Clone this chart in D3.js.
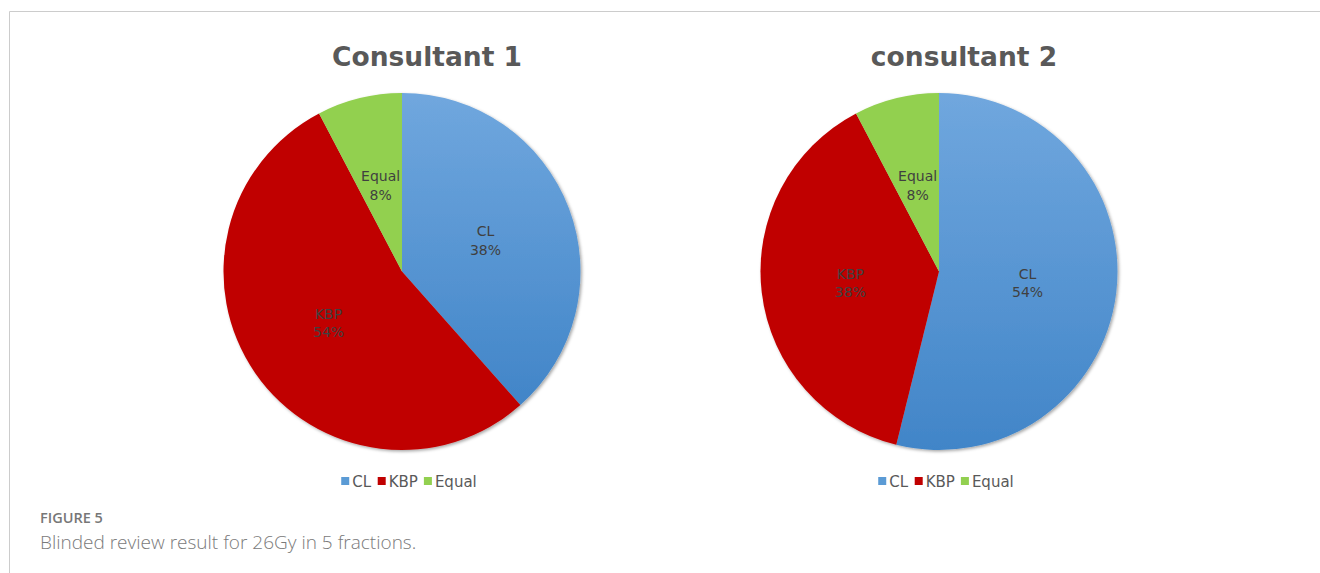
<!DOCTYPE html>
<html>
<head>
<meta charset="utf-8">
<script src="https://cdn.jsdelivr.net/npm/d3@7"></script>
<style>
  html, body { margin: 0; padding: 0; background: #fff; }
  svg { display: block; }
</style>
</head>
<body>
<svg id="chart" width="1320" height="573"></svg>
<script>
// Review outcome categories and case counts per consultant (13 plans each)
const categories = ["CL", "KBP", "Equal"];
const consultant1 = [5, 7, 1];
const consultant2 = [7, 5, 1];
const chartTitles = ["Consultant 1", "consultant 2"];
const sliceColors = ["#5b9bd5", "#c00000", "#92d050"];

const figureLabel = "FIGURE 5";
const figureCaption = "Blinded review result for 26Gy in 5 fractions.";

const svg = d3.select("#chart");
const defs = svg.append("defs");

// Vertical gradient for the CL slice
const grad = defs.append("linearGradient")
  .attr("id", "blueGrad").attr("x1", 0).attr("y1", 0).attr("x2", 0).attr("y2", 1)
  .attr("gradientUnits", "objectBoundingBox");
grad.append("stop").attr("offset", "0%").attr("stop-color", "#70a7de");
grad.append("stop").attr("offset", "100%").attr("stop-color", "#4185c8");

// Soft shadow under each pie
const shadow = defs.append("filter").attr("id", "pieShadow")
  .attr("x", "-10%").attr("y", "-10%").attr("width", "120%").attr("height", "120%");
shadow.append("feDropShadow")
  .attr("dx", 1.5).attr("dy", 1.5).attr("stdDeviation", 1.5)
  .attr("flood-color", "#000").attr("flood-opacity", 0.35);

// Figure frame (top and left rules)
svg.append("line").attr("x1", 9.5).attr("x2", 1320).attr("y1", 11.5).attr("y2", 11.5)
  .attr("stroke", "#cccccc").attr("stroke-width", 1);
svg.append("line").attr("x1", 9.5).attr("x2", 9.5).attr("y1", 11.5).attr("y2", 573)
  .attr("stroke", "#cccccc").attr("stroke-width", 1);

const color = d3.scaleOrdinal().domain(categories).range(sliceColors);
const fillFor = c => c === "CL" ? "url(#blueGrad)" : color(c);

const pie = d3.pie().sort(null).value(d => d.value);
const R = 178.5;
const arc = d3.arc().innerRadius(0).outerRadius(R);
const labelArc = d3.arc().innerRadius(R * 0.5).outerRadius(R * 0.5);

const panels = [
  { title: chartTitles[0], values: consultant1, cx: 402, titleX: 427, legendX: 409 },
  { title: chartTitles[1], values: consultant2, cx: 939, titleX: 964, legendX: 946 }
];
const cy = 271.5;

panels.forEach(p => {
  const data = categories.map((c, i) => ({ cat: c, value: p.values[i] }));
  const total = d3.sum(p.values);
  const arcs = pie(data);

  // Title
  svg.append("text")
    .attr("x", p.titleX).attr("y", 66)
    .attr("text-anchor", "middle")
    .attr("font-family", "DejaVu Sans")
    .attr("font-weight", "bold")
    .attr("font-size", 26.5)
    .attr("fill", "#595959")
    .text(p.title);

  const g = svg.append("g").attr("transform", `translate(${p.cx},${cy})`);

  g.append("g").attr("filter", "url(#pieShadow)")
    .selectAll("path").data(arcs).join("path")
    .attr("d", arc)
    .attr("fill", d => fillFor(d.data.cat));

  // Data labels: category and rounded percentage
  const lbl = g.selectAll("text.lbl").data(arcs).join("text")
    .attr("class", "lbl")
    .attr("transform", d => `translate(${labelArc.centroid(d)})`)
    .attr("text-anchor", "middle")
    .attr("font-family", "DejaVu Sans")
    .attr("font-size", 14)
    .attr("fill", "#404040");
  lbl.append("tspan").attr("x", 0).attr("dy", "-0.25em").text(d => d.data.cat);
  lbl.append("tspan").attr("x", 0).attr("dy", "1.3em")
    .text(d => Math.round(d.data.value / total * 100) + "%");

  // Legend
  const leg = svg.append("g").attr("transform", `translate(0,481)`);
  const items = leg.selectAll("g").data(categories).join("g");
  items.append("rect").attr("width", 8).attr("height", 8).attr("y", -4)
    .attr("fill", d => color(d));
  items.append("text").attr("x", 11).attr("y", 5.5)
    .attr("font-family", "DejaVu Sans").attr("font-size", 15)
    .attr("fill", "#595959").text(d => d);
  // lay out items horizontally, centered on legendX
  let x = 0;
  const widths = [];
  items.each(function () {
    const w = this.getBBox().width;
    widths.push(w);
  });
  const gap = 6;
  const totalW = d3.sum(widths) + gap * (widths.length - 1);
  x = p.legendX - totalW / 2;
  items.each(function (d, i) {
    d3.select(this).attr("transform", `translate(${x},0)`);
    x += widths[i] + gap;
  });
});

// Caption
svg.append("text")
  .attr("x", 40).attr("y", 523)
  .attr("font-family", "Open Sans").attr("font-weight", 600)
  .attr("font-size", 14.5).attr("fill", "#777777")
  .text(figureLabel);
svg.append("text")
  .attr("x", 40).attr("y", 549)
  .attr("font-family", "Open Sans").attr("font-weight", 300)
  .attr("font-size", 19).attr("fill", "#7a7a7a")
  .text(figureCaption);
</script>
</body>
</html>
